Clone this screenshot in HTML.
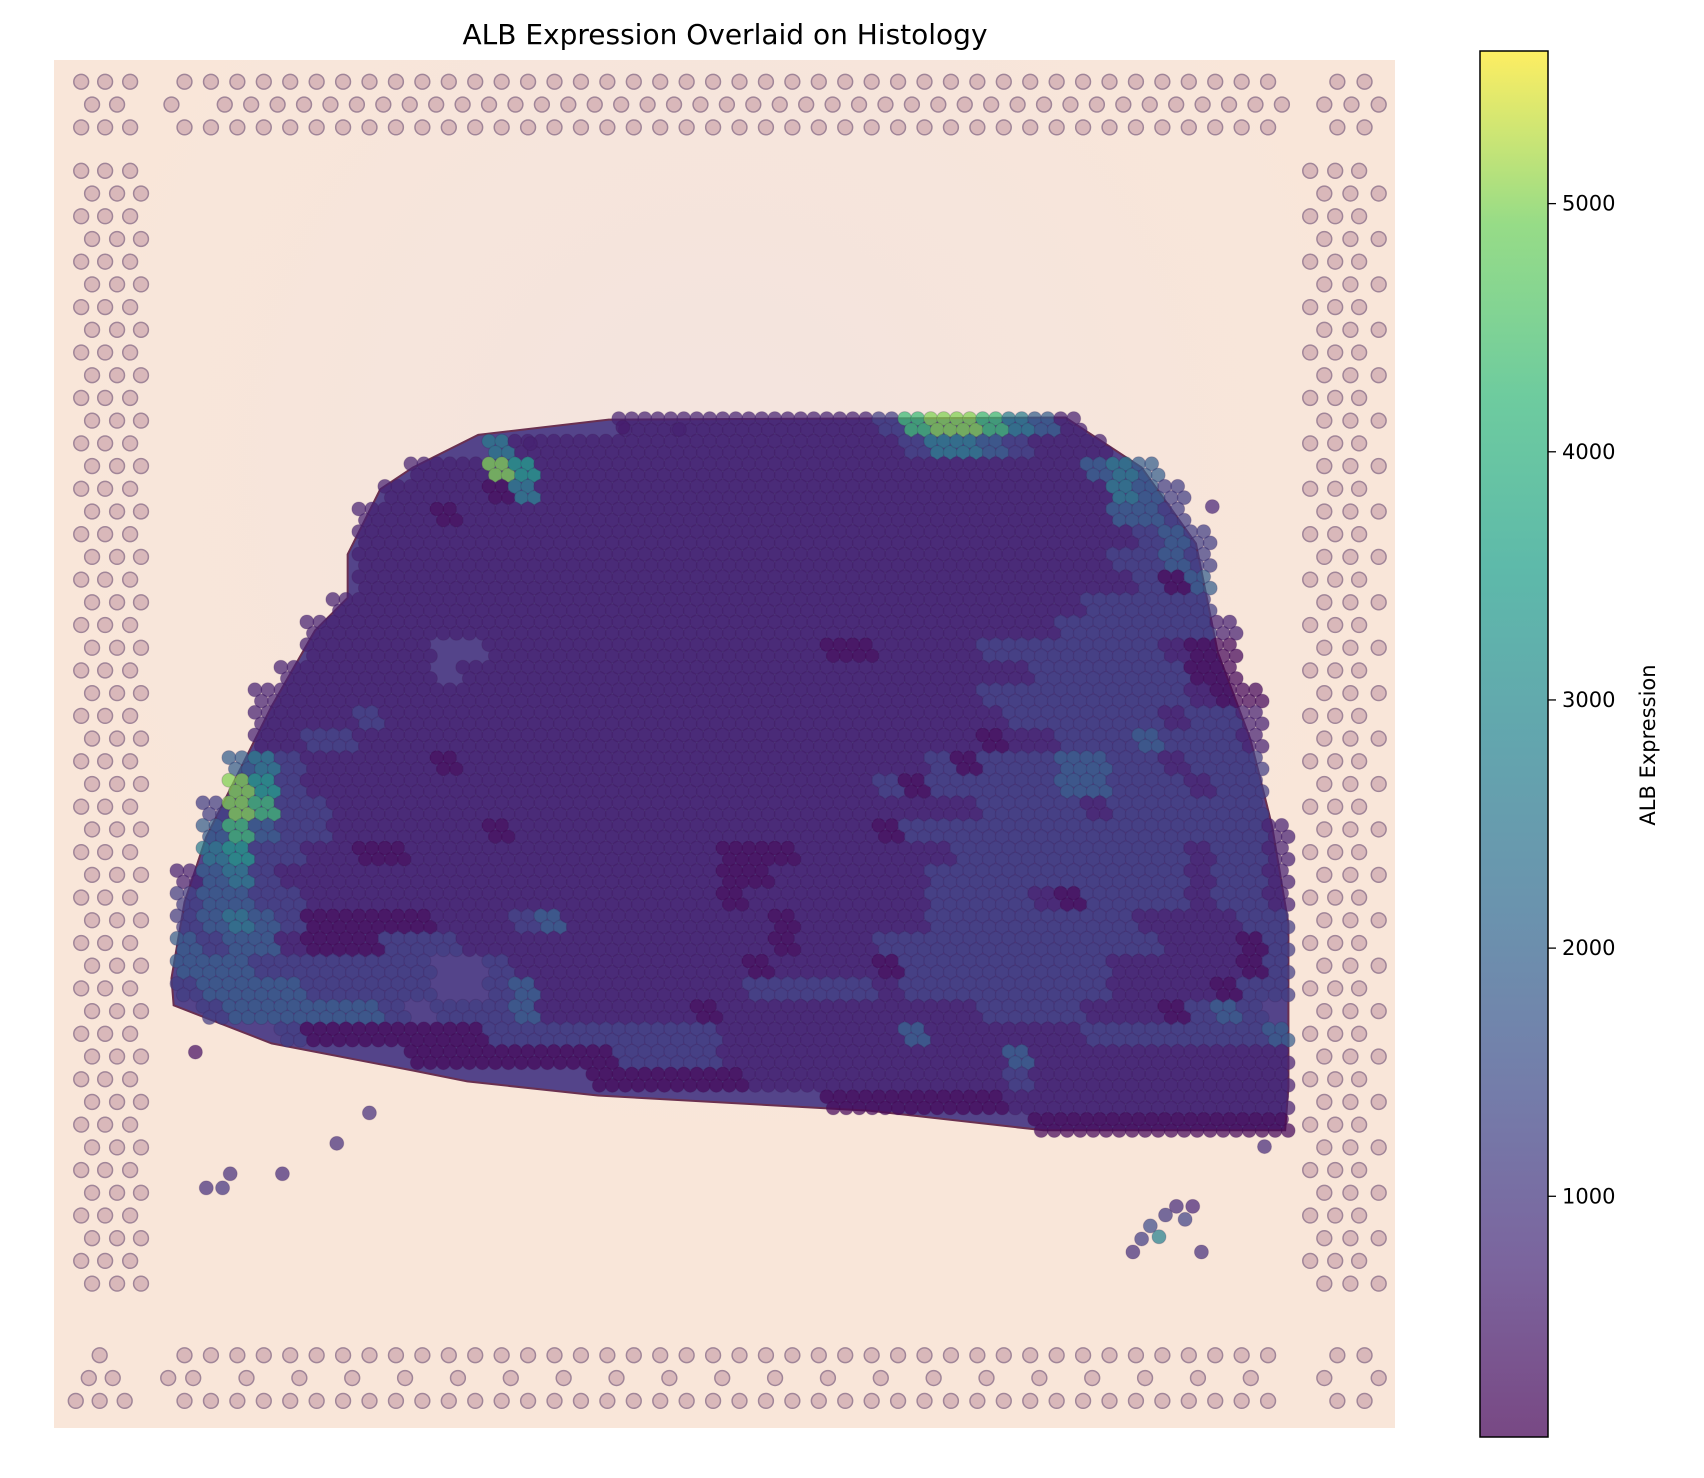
<!DOCTYPE html>
<html><head><meta charset="utf-8"><title>ALB Expression Overlaid on Histology</title>
<style>
html,body{margin:0;padding:0;background:#fff;}
svg{display:block;font-family:"DejaVu Sans","Liberation Sans",sans-serif;}
</style></head>
<body>
<svg id="chart" width="1704" height="1478" viewBox="0 0 1704 1478" xmlns="http://www.w3.org/2000/svg">
<defs>
<linearGradient id="cbgrad" x1="0" y1="1" x2="0" y2="0"></linearGradient>
<radialGradient id="bgglow" cx="0.5" cy="0.3" r="0.5">
<stop offset="0" stop-color="#efe2e2"/><stop offset="1" stop-color="#f9e6d9"/>
</radialGradient>
</defs>
<text x="725" y="44" font-size="28" text-anchor="middle" fill="#000">ALB Expression Overlaid on Histology</text>
<rect x="54" y="60" width="1341" height="1368" fill="#f9e6d9"/>
<rect x="54" y="60" width="1341" height="1368" fill="url(#bgglow)" opacity="0.6"/>
<g id="fiducials"></g>
<g id="tissue"></g>
<g id="spots"></g>
<g id="colorbar"></g>
</svg>
<script>
// ---- chart data ----
const levelCodes = ['0','1','2','3','4','5','6','7','8'];
const levelValues = [150, 600, 1200, 1900, 2700, 3500, 4300, 5000, 5500];
// coarse spot map rows: first column index, last column index, codes (each code = 2x2 spots)
const rowStarts = [17,12,9,8,7,7,7,7,6,5,5,4,3,3,3,2,2,1,1,1,0,0,0,0,0,0,1,4,9,16,25,33];
const rowEnds   = [34,35,37,38,38,39,39,39,39,40,40,40,41,41,41,41,41,41,42,42,42,42,42,42,42,42,42,42,42,42,42,42];
const rowCodes = [
"111111111126776431",
"411111111111111124432111",
"11175111111111111111111111343",
"1111041111111111111111111111432",
"11101111111111111111111111111332",
"111111111111111111111111111111232",
"111111111111111111111111111112232",
"111111111111111111111111111111203",
"1111111111111111111111111111122222",
"111111111111111111111111111112222221",
"11111  111111111111100111122222221000",
"111111 1111111111111111111111222222000",
"111111111111111111111111111122222222100",
"111121111111111111111111111112222221221",
"112211111111111111111111111101122232221",
"34211111011111111111111111120222332212221",
"75211111111111111111111112022222332221221",
"2762211111111111111111111111112222122222221",
"363221111110111111111111110222222222222221",
"452211001111111111110001111112222222221221",
"1342111111111111111110011111122222222221221",
"2332211111111111111110111111122221022221221",
"2343200000111231111111101111122222222111122",
"3233100022211111111111101112222222222211102",
"3332222222  2111111111011110222222221111102",
"2333322222  2311111111222221222222221111022",
"23333332 22231111110111111111122221110232",
"200000002222222221111111311111122222223",
"0000000022221111111111131111111111",
"000000111111111121111111111",
"000000011111111111",
"0000000000"
];
const outlierX = [180,190,205,212,260,310,340,488,573,625,1115,1163,1042,1050,1058,1066,1072,1082,1097,1105,1090];
const outlierY = [968,1093,1093,1080,1080,1052,1024,408,393,395,466,1055,1152,1140,1128,1138,1118,1110,1110,1152,1122];
const outlierV = [300,900,1000,900,800,900,900,600,500,600,700,800,900,1200,1500,2800,1100,800,700,900,1300];
const cbMin = 30, cbMax = 5615;
const cbTicks = [1000,2000,3000,4000,5000];
const cbTickLabels = ['1000','2000','3000','4000','5000'];
</script>
<script>
const NS='http://www.w3.org/2000/svg';
function mk(tag, attrs, parent){const e=document.createElementNS(NS,tag);for(const k in attrs)e.setAttribute(k,attrs[k]);parent.appendChild(e);return e;}
function X(xd){return (xd-50)*1.0876+54;}
function Y(yd){return (yd-55)*1.0866+60;}
const VIR=['#440154','#482878','#3e4a89','#31688e','#26828e','#1f9e89','#35b779','#6ece58','#fde725'];
function hex2(c){return [parseInt(c.substr(1,2),16),parseInt(c.substr(3,2),16),parseInt(c.substr(5,2),16)];}
function viridis(t){t=Math.max(0,Math.min(1,t));const p=t*(VIR.length-1);const i=Math.min(VIR.length-2,Math.floor(p));const f=p-i;const a=hex2(VIR[i]),b=hex2(VIR[i+1]);return 'rgb('+a.map((v,k)=>Math.round(v+(b[k]-v)*f)).join(',')+')';}
function norm(v){return (v-cbMin)/(cbMax-cbMin);}

const fg=document.getElementById('fiducials');
function fid(xd,yd){const c=mk('circle',{cx:X(xd),cy:Y(yd),r:7.4,fill:'#d9b8ba',stroke:'#a08598','stroke-width':1.5},fg);

}
for(let i=0;i<43;i++){const x=170+i*24.3; if(x>1190)break; fid(x,75); fid(x,117); fid(x,1247); fid(x,1289);}
for(let i=0;i<42;i++){const x=207+i*24.3; if(x>1190)break; fid(x,96);}
for(let i=0;i<21;i++){const x=227+i*48.6; if(x>1190)break; fid(x,1268);}
[[75,75],[97,75],[120,75],[85,96],[108,96],[158,96],[75,117],[97,117],[120,117],[1230,75],[1255,75],[1218,96],[1243,96],[1268,96],[1230,117],[1255,117],
 [92,1247],[1230,1247],[1255,1247],[82,1268],[104,1268],[155,1268],[178,1268],[1218,1268],[1268,1268],[70,1289],[92,1289],[115,1289],[1230,1289],[1255,1289]].forEach(p=>fid(p[0],p[1]));
for(let j=0;j<50;j++){const y=157+j*20.9; if(y>1205)break; const odd=j%2;
 const L=odd?[85,108,130]:[75,97,120]; const R=odd?[1218,1242,1268]:[1205,1228,1250];
 L.forEach(x=>fid(x,y)); R.forEach(x=>fid(x,y));}

const tg=document.getElementById('tissue');
const outline=[[380,430],[440,400],[560,386],[980,384],[1050,430],[1100,500],[1120,600],[1150,680],[1170,760],[1185,850],[1185,1000],[1182,1040],[960,1040],[800,1022],[550,1008],[430,995],[380,985],[250,960],[160,925],[158,900],[170,830],[190,770],[220,710],[250,650],[290,580],[320,550],[320,510],[350,450]];
const poly=mk('polygon',{points:outline.map(p=>X(p[0])+','+Y(p[1])).join(' '),fill:'#54448a',stroke:'#6a3050','stroke-width':2},tg);



const sg=document.getElementById('spots');
function spot(xd,yd,v){const c=mk('circle',{cx:X(xd),cy:Y(yd),r:7,fill:viridis(norm(v)),'fill-opacity':0.72,stroke:'#3a1a50','stroke-opacity':0.2,'stroke-width':1},sg);

}
rowCodes.forEach((s,r)=>{const c0=rowStarts[r];
 for(let i=0;i<s.length;i++){const c=c0+i; if(c>rowEnds[r])break; const li=levelCodes.indexOf(s[i]); if(li<0)continue; const v=levelValues[li];
  for(let sr=0;sr<2;sr++)for(let sc=0;sc<2;sc++){
   const xd=160+23.9*c+sc*11.95+(sr?6:0)+3; const yd=380+20.8*r+sr*10.4+5;
   if(xd>1188)continue;
   spot(xd,yd,v);}}});
outlierX.forEach((x,i)=>spot(x,outlierY[i],outlierV[i]));

const cb=document.getElementById('colorbar');
const grad=document.getElementById('cbgrad');
for(let i=0;i<=16;i++){const t=i/16;mk('stop',{offset:t,'stop-color':viridis(t),'stop-opacity':0.72},grad);}
const cbX=1480,cbW=68,cbTop=51,cbBot=1437;
function CY(v){return cbBot-(v-cbMin)/(cbMax-cbMin)*(cbBot-cbTop);}
const bar=mk('rect',{x:cbX,y:cbTop,width:cbW,height:cbBot-cbTop,fill:'url(#cbgrad)',stroke:'#000','stroke-width':1.5},cb);


cbTicks.forEach((v,i)=>{const y=CY(v);
 const tk=mk('line',{x1:cbX+cbW,x2:cbX+cbW+8,y1:y,y2:y,stroke:'#000','stroke-width':1.3},cb);
 
 
 const tx=mk('text',{x:cbX+cbW+14,y:y+7,'font-size':21,fill:'#000'},cb);
 tx.textContent=cbTickLabels[i];
 
 });
const lab=mk('text',{x:0,y:0,'font-size':21,fill:'#000','text-anchor':'middle',transform:'translate(1655,745) rotate(-90)'},cb);
lab.textContent='ALB Expression';


</script>
</body></html>
